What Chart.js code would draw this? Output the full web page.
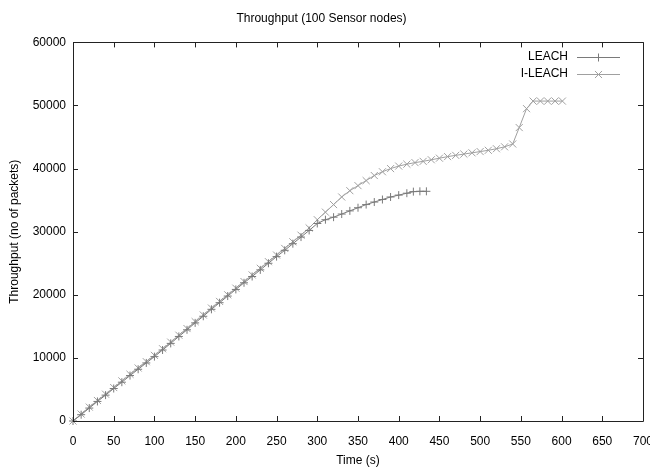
<!DOCTYPE html>
<html><head><meta charset="utf-8">
<script src="https://cdn.jsdelivr.net/npm/chart.js@4.4.1/dist/chart.umd.min.js"></script>
<style>html,body{margin:0;padding:0;background:#fff}canvas{display:block}</style>
</head><body>
<canvas id="c" width="650" height="474"></canvas>
<script>
const chartTitle = 'Throughput (100 Sensor nodes)';
const xTitle = 'Time (s)';
const yTitle = 'Throughput (no of packets)';
const seriesNames = ['LEACH', 'I-LEACH'];
const xTicks = [0,50,100,150,200,250,300,350,400,450,500,550,600,650,700];
const yTicks = [0,10000,20000,30000,40000,50000,60000];

const leachTime = [0,10,20,30,40,50,60,70,80,90,100,110,120,130,140,150,160,170,180,190,200,210,220,230,240,250,260,270,280,290,300,310,320,330,340,350,360,370,380,390,400,410,418,426,434];
const leachThroughput = [0,1000,2050,3100,4100,5150,6150,7200,8200,9200,10200,11250,12300,13400,14450,15550,16600,17700,18750,19800,20850,21900,22900,23950,25000,26050,27050,28100,29150,30200,31300,31900,32300,32800,33300,33800,34300,34700,35100,35500,35800,36100,36350,36400,36400];

const ileachTime = [0,10,20,30,40,50,60,70,80,90,100,110,120,130,140,150,160,170,180,190,200,210,220,230,240,250,260,270,280,290,300,310,320,330,340,350,360,370,380,390,400,410,420,430,440,450,460,470,480,490,500,510,520,530,540,548,557,565,574,583,592,601];
const ileachThroughput = [0,1100,2200,3250,4250,5300,6350,7400,8400,9400,10400,11450,12500,13600,14650,15750,16800,17900,18950,20000,21050,22100,23150,24200,25250,26300,27350,28400,29450,30600,31900,33100,34300,35500,36500,37300,38100,38900,39500,40000,40400,40700,40950,41150,41400,41650,41900,42100,42300,42500,42700,42900,43150,43450,43900,46500,49500,50700,50700,50700,50700,50700];

const toXY = (xs, ys) => xs.map((x, i) => ({x: x, y: ys[i]}));
const FONT = {family: '"Liberation Sans", Arial, sans-serif', size: 12, weight: 'normal'};

const frameAndLegend = {
  id: 'frameAndLegend',
  afterDatasetsDraw(chart) {
    const {ctx, chartArea: a, scales: {x, y}} = chart;
    ctx.save();
    ctx.strokeStyle = '#222';
    ctx.lineWidth = 1;
    ctx.beginPath();
    ctx.rect(Math.round(a.left) + 0.5, Math.round(a.top) + 0.5, Math.round(a.right - a.left), Math.round(a.bottom - a.top));
    ctx.stroke();
    const tl = 5;
    ctx.beginPath();
    xTicks.forEach(v => {
      const px = Math.round(x.getPixelForValue(v)) + 0.5;
      ctx.moveTo(px, a.bottom); ctx.lineTo(px, a.bottom - tl);
      ctx.moveTo(px, a.top); ctx.lineTo(px, a.top + tl);
    });
    yTicks.forEach(v => {
      const py = Math.round(y.getPixelForValue(v)) + 0.5;
      ctx.moveTo(a.left, py); ctx.lineTo(a.left + tl, py);
      ctx.moveTo(a.right, py); ctx.lineTo(a.right - tl, py);
    });
    ctx.stroke();
    // gnuplot-style key: text right aligned, then sample line with marker
    const textRight = a.right - 75, lx0 = a.right - 66, lx1 = a.right - 23;
    ctx.font = '12px ' + FONT.family;
    ctx.textAlign = 'right';
    ctx.textBaseline = 'middle';
    chart.data.datasets.forEach((ds, i) => {
      const ly = a.top + 14.5 + i * 17;
      ctx.fillStyle = '#000';
      ctx.fillText(ds.label, textRight, ly);
      ctx.strokeStyle = ds.borderColor;
      ctx.beginPath();
      ctx.moveTo(lx0, Math.round(ly) + 0.5); ctx.lineTo(lx1, Math.round(ly) + 0.5);
      ctx.stroke();
      Chart.helpers.drawPoint(ctx, {pointStyle: ds.pointStyle, radius: ds.pointRadius, borderWidth: 1}, (lx0 + lx1) / 2, Math.round(ly) + 0.5);
    });
    ctx.restore();
  }
};

new Chart(document.getElementById('c'), {
  type: 'line',
  data: {
    datasets: [
      {label: seriesNames[0], data: toXY(leachTime, leachThroughput), borderColor: '#7a7a7a', backgroundColor: '#7a7a7a',
       borderWidth: 1, pointStyle: 'cross', pointRadius: 4, pointBorderColor: '#7a7a7a', pointBorderWidth: 1, tension: 0, fill: false, clip: false},
      {label: seriesNames[1], data: toXY(ileachTime, ileachThroughput), borderColor: '#a0a0a0', backgroundColor: '#a0a0a0',
       borderWidth: 1, pointStyle: 'crossRot', pointRadius: 5, pointBorderColor: '#a0a0a0', pointBorderWidth: 1, tension: 0, fill: false, clip: false}
    ]
  },
  options: {
    responsive: false,
    animation: false,
    layout: {padding: {left: 0, right: 7, top: 0, bottom: 0}},
    plugins: {
      legend: {display: false},
      tooltip: {enabled: false},
      title: {display: true, text: chartTitle, color: '#000', font: FONT, padding: {top: 11, bottom: 17}}
    },
    scales: {
      x: {
        type: 'linear', min: 0, max: 700,
        afterBuildTicks: s => { s.ticks = xTicks.map(v => ({value: v})); },
        afterFit: s => { s.height = 53; s.paddingRight = 0; s.paddingLeft = 0; },
        grid: {display: false, drawTicks: false},
        border: {display: false},
        ticks: {color: '#000', font: FONT, padding: 13, maxRotation: 0, autoSkip: false, callback: v => String(v)},
        title: {display: true, text: xTitle, color: '#000', font: FONT, padding: {top: 0, bottom: 6}}
      },
      y: {
        type: 'linear', min: 0, max: 60000,
        afterBuildTicks: s => { s.ticks = yTicks.map(v => ({value: v})); },
        afterFit: s => { s.width = 73; s.paddingTop = 0; s.paddingBottom = 0; },
        grid: {display: false, drawTicks: false},
        border: {display: false},
        ticks: {color: '#000', font: FONT, padding: 7, autoSkip: false, callback: v => String(v)},
        title: {display: true, text: yTitle, color: '#000', font: FONT, padding: {top: 7, bottom: 0}}
      }
    }
  },
  plugins: [frameAndLegend]
});
</script>
</body></html>
